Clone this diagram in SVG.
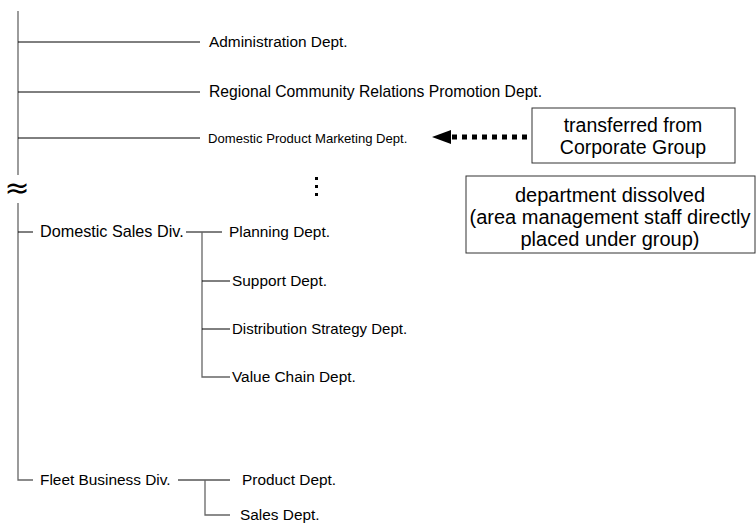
<svg xmlns="http://www.w3.org/2000/svg" width="756" height="527" viewBox="0 0 756 527">
<style>
text{font-family:"Liberation Sans",Arial,sans-serif;fill:#000}
.t{font-size:15.4px}
.s{font-size:13.1px}
.b{font-size:19.5px;text-anchor:middle}
.v{stroke:#666;stroke-width:1.3;fill:none}
.h{stroke:#000;stroke-width:1;fill:none}
.box{fill:#fff;stroke:#333;stroke-width:1}
</style>
<g id="connectors">
<line class="v" x1="18" y1="11" x2="18" y2="175"/>
<line class="h" x1="18" y1="42" x2="200" y2="42"/>
<line class="h" x1="18" y1="92" x2="200" y2="92"/>
<line class="h" x1="18" y1="138" x2="200" y2="138"/>
<polyline class="v" points="18,203 18,480 33,480"/>
<line class="h" x1="18" y1="232" x2="33" y2="232"/>
<line class="h" x1="186" y1="232" x2="222" y2="232"/>
<polyline class="v" points="202,232 202,377 230,377"/>
<line class="h" x1="202" y1="281" x2="230" y2="281"/>
<line class="h" x1="202" y1="329" x2="230" y2="329"/>
<line class="h" x1="178" y1="480" x2="230" y2="480"/>
<polyline class="v" points="205,480 205,515 230,515"/>
<line x1="452" y1="137" x2="531" y2="137" stroke="#000" stroke-width="5" stroke-dasharray="5,5"/>
<polygon points="432,137 451,130 451,144" fill="#000"/>
</g>
<text x="17" y="198" style="font-family:'DejaVu Sans',sans-serif;font-size:30px;text-anchor:middle">≈</text>
<g id="dots" fill="#000">
<rect x="315" y="177" width="3" height="3"/>
<rect x="315" y="185" width="3" height="3"/>
<rect x="315" y="193" width="3" height="3"/>
</g>
<g id="admin"><text class="t" x="209" y="47">Administration Dept.</text></g>
<g id="regional"><text class="t" x="209" y="97" style="font-size:15.7px">Regional Community Relations Promotion Dept.</text></g>
<g id="domestic-product"><text class="s" x="208" y="143">Domestic Product Marketing Dept.</text></g>
<g id="transferred">
<rect class="box" x="532" y="108" width="203" height="55"/>
<text class="b" x="633" y="132">transferred from</text>
<text class="b" x="633" y="154">Corporate Group</text>
</g>
<g id="dissolved">
<rect class="box" x="466" y="176" width="289" height="77"/>
<text class="b" x="610" y="202" style="font-size:20px">department dissolved</text>
<text class="b" x="610" y="224" style="font-size:20px">(area management staff directly</text>
<text class="b" x="610" y="246" style="font-size:20px">placed under group)</text>
</g>
<g id="domestic-sales"><text class="t" x="40" y="237" style="font-size:16.2px">Domestic Sales Div.</text></g>
<g id="planning"><text class="t" x="229" y="237">Planning Dept.</text></g>
<g id="support"><text class="t" x="232" y="286">Support Dept.</text></g>
<g id="distribution"><text class="t" x="232" y="334" style="font-size:15px">Distribution Strategy Dept.</text></g>
<g id="value-chain"><text class="t" x="232" y="382">Value Chain Dept.</text></g>
<g id="fleet"><text class="t" x="40" y="485">Fleet Business Div.</text></g>
<g id="product"><text class="t" x="242" y="485">Product Dept.</text></g>
<g id="sales"><text class="t" x="240" y="520">Sales Dept.</text></g>
</svg>
